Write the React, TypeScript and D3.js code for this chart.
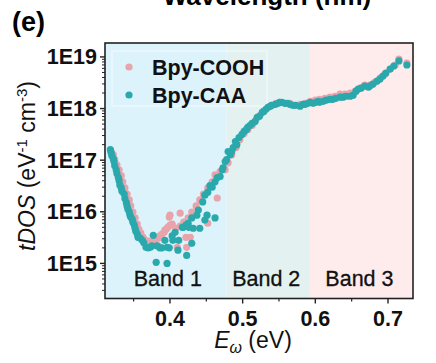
import * as d3 from "d3";
import React, { useEffect, useRef } from "react";

// Bpy-COOH  [E (eV), tDOS]
const cooh: [number, number][] = [
  [0.319, 1.47e17], [0.322, 1.28e17], [0.324, 1.02e17], [0.327, 8.1e16], [0.330, 6.5e16],
  [0.333, 5.0e16], [0.335, 3.8e16], [0.338, 2.9e16], [0.341, 2.2e16], [0.344, 1.7e16],
  [0.346, 1.3e16], [0.349, 9.9e15], [0.352, 7.6e15], [0.355, 5.8e15], [0.357, 4.6e15],
  [0.360, 3.85e15], [0.363, 3.2e15], [0.366, 2.8e15], [0.370, 2.7e15], [0.373, 2.57e15],
  [0.375, 2.45e15], [0.378, 2.8e15], [0.381, 2.9e15], [0.384, 3.1e15], [0.384, 2.2e15],
  [0.386, 3.4e15], [0.389, 3.7e15], [0.392, 4.0e15], [0.393, 4.4e15], [0.395, 4.6e15],
  [0.397, 5.0e15], [0.399, 7.9e15], [0.400, 5.5e15], [0.400, 8.6e15], [0.403, 5.8e15],
  [0.408, 4.8e15], [0.410, 2.05e15], [0.414, 9.4e15], [0.414, 5.3e15], [0.419, 6.3e15],
  [0.422, 3.2e15], [0.423, 2.05e15], [0.425, 7.6e15], [0.428, 3.2e15], [0.430, 9.9e15],
  [0.436, 1.3e16], [0.441, 1.7e16], [0.446, 2.2e16], [0.452, 6.0e15], [0.452, 2.9e16],
  [0.458, 3.8e16], [0.462, 5.2e16], [0.465, 1.85e16], [0.469, 6.0e16], [0.476, 6.5e16],
  [0.480, 8.9e16], [0.485, 1.28e17], [0.491, 1.75e17], [0.496, 2.5e17], [0.502, 3.3e17],
  [0.507, 3.9e17], [0.513, 4.7e17], [0.518, 5.9e17], [0.524, 7.4e17], [0.529, 8.8e17],
  [0.535, 1.06e18], [0.540, 1.16e18], [0.546, 1.26e18], [0.551, 1.32e18], [0.558, 1.26e18],
  [0.565, 1.26e18], [0.572, 1.16e18], [0.579, 1.21e18], [0.586, 1.26e18], [0.593, 1.38e18],
  [0.600, 1.45e18], [0.606, 1.51e18], [0.613, 1.58e18], [0.620, 1.66e18], [0.627, 1.73e18],
  [0.634, 1.9e18], [0.641, 1.9e18], [0.648, 2.0e18], [0.655, 2.17e18], [0.662, 2.48e18],
  [0.668, 2.85e18], [0.675, 2.85e18], [0.682, 3.25e18], [0.689, 3.9e18], [0.696, 4.66e18],
  [0.703, 5.83e18], [0.710, 6.98e18], [0.715, 9.1e18], [0.726, 7.6e18],
];

// Bpy-CAA  [E (eV), tDOS]
const caa: [number, number][] = [
  [0.318, 1.6e17], [0.319, 1.4e17], [0.320, 1.22e17], [0.322, 1.07e17], [0.323, 9.4e16],
  [0.324, 7.8e16], [0.326, 6.5e16], [0.327, 5.5e16], [0.329, 4.6e16], [0.330, 4.0e16],
  [0.331, 3.3e16], [0.333, 2.9e16], [0.334, 2.5e16], [0.337, 2.2e16], [0.338, 1.8e16],
  [0.340, 1.5e16], [0.341, 1.3e16], [0.342, 1.13e16], [0.344, 9.9e15], [0.345, 8.6e15],
  [0.346, 7.9e15], [0.348, 7.2e15], [0.349, 6.3e15], [0.351, 5.5e15], [0.352, 4.8e15],
  [0.353, 4.2e15], [0.355, 3.7e15], [0.356, 3.2e15], [0.359, 3.1e15], [0.362, 2.8e15],
  [0.364, 2.5e15], [0.367, 2.05e15], [0.370, 2.0e15], [0.373, 2.05e15], [0.375, 2.2e15],
  [0.377, 3.5e15], [0.381, 1.05e15], [0.382, 2.2e15], [0.386, 2.0e15], [0.389, 2.0e15],
  [0.393, 2.8e15], [0.396, 2.05e15], [0.396, 1.0e15], [0.399, 2.0e15], [0.403, 3.4e15],
  [0.404, 2.8e15], [0.407, 4.0e15], [0.411, 1.8e15], [0.412, 2.8e15], [0.417, 5.0e15],
  [0.418, 5.0e15], [0.422, 5.5e15], [0.423, 1.43e15], [0.425, 6.0e15], [0.426, 5.0e15],
  [0.430, 7.6e15], [0.430, 2.45e15], [0.432, 4.8e15], [0.437, 8.6e15], [0.439, 1.08e16],
  [0.441, 4.8e15], [0.445, 1.55e16], [0.448, 2.1e16], [0.448, 6.9e15], [0.451, 8.6e15],
  [0.452, 2.4e16], [0.455, 3.2e16], [0.458, 3.0e16], [0.462, 7.6e15], [0.462, 3.8e16],
  [0.465, 4.6e16], [0.469, 4.8e16], [0.472, 6.5e16], [0.473, 7.1e16], [0.476, 9.4e16],
  [0.478, 1.02e17], [0.480, 1.47e17], [0.483, 1.28e17], [0.485, 1.47e17], [0.487, 1.75e17],
  [0.490, 2.3e17], [0.492, 2.0e17], [0.495, 2.75e17], [0.499, 3.15e17], [0.502, 3.6e17],
  [0.505, 3.9e17], [0.507, 4.3e17], [0.510, 4.7e17], [0.513, 5.15e17], [0.517, 5.6e17],
  [0.520, 6.75e17], [0.523, 7.1e17], [0.527, 8.45e17], [0.529, 8.8e17], [0.532, 9.7e17],
  [0.535, 1.06e18], [0.538, 1.11e18], [0.540, 1.16e18], [0.545, 1.21e18], [0.549, 1.26e18],
  [0.551, 1.32e18], [0.554, 1.32e18], [0.558, 1.26e18], [0.562, 1.26e18], [0.565, 1.21e18],
  [0.569, 1.16e18], [0.573, 1.16e18], [0.579, 1.11e18], [0.583, 1.21e18], [0.586, 1.21e18],
  [0.590, 1.26e18], [0.593, 1.32e18], [0.597, 1.26e18], [0.601, 1.32e18], [0.604, 1.38e18],
  [0.606, 1.32e18], [0.611, 1.38e18], [0.615, 1.45e18], [0.620, 1.51e18], [0.624, 1.51e18],
  [0.628, 1.58e18], [0.634, 1.66e18], [0.638, 1.66e18], [0.642, 1.73e18], [0.648, 1.73e18],
  [0.652, 1.82e18], [0.656, 2.17e18], [0.659, 2.38e18], [0.663, 2.48e18], [0.668, 2.72e18],
  [0.673, 2.6e18], [0.675, 2.72e18], [0.679, 2.97e18], [0.685, 3.4e18], [0.689, 3.72e18],
  [0.693, 4.26e18], [0.697, 4.88e18], [0.703, 5.83e18], [0.708, 6.67e18], [0.715, 8.36e18],
  [0.726, 6.98e18],
];

const bands = [
  { name: "Band 1", from: 0.3106, to: 0.478, color: "#dcf3fc" },
  { name: "Band 2", from: 0.478, to: 0.5925, color: "#e3f1f1" },
  { name: "Band 3", from: 0.5925, to: 0.7344, color: "#fdeceb" },
];
const xTicks = [0.4, 0.5, 0.6, 0.7];
const xMinor = [0.35, 0.45, 0.55, 0.65];
const yTicks = [1e15, 1e16, 1e17, 1e18, 1e19];
const yTickLabels = ["1E15", "1E16", "1E17", "1E18", "1E19"];

const PINK = "#e9a3ab";
const TEAL = "#2aa9ad";
const FONT = "'Liberation Sans', Arial, sans-serif";

export default function App() {
  const ref = useRef<SVGSVGElement>(null);

  useEffect(() => {
    const W = 436, H = 363;
    const margin = { top: 43, right: 23, bottom: 64.5, left: 105 };
    const width = W - margin.left - margin.right;
    const height = H - margin.top - margin.bottom;

    const root = d3.select(ref.current);
    root.selectAll("*").remove();
    root.attr("width", W).attr("height", H);

    // title of the panel above, cut off at the top like in the figure
    root.append("text").attr("x", 267).attr("y", 5).attr("text-anchor", "middle")
      .attr("font-family", FONT).attr("font-weight", "bold").attr("font-size", 26)
      .text("Wavelength (nm)");
    root.append("text").attr("x", 12).attr("y", 31)
      .attr("font-family", FONT).attr("font-weight", "bold").attr("font-size", 27)
      .text("(e)");

    const svg = root.append("g").attr("transform", `translate(${margin.left},${margin.top})`);

    const x = d3.scaleLinear().domain([0.3106, 0.7344]).range([0, width]);
    const y = d3.scaleLog().domain([10 ** 14.32, 10 ** 19.27]).range([height, 0]);

    // band backgrounds
    svg.selectAll("rect.band").data(bands).enter().append("rect")
      .attr("x", d => x(d.from)).attr("y", 0)
      .attr("width", d => x(d.to) - x(d.from)).attr("height", height)
      .attr("fill", d => d.color);

    // faint legend box
    svg.append("rect").attr("x", 7).attr("y", 8).attr("width", 155).attr("height", 55)
      .attr("fill", "none").attr("stroke", "#ffffff").attr("stroke-opacity", 0.7);

    // points
    svg.append("g").selectAll("circle").data(cooh).enter().append("circle")
      .attr("cx", d => x(d[0])).attr("cy", d => y(d[1])).attr("r", 3.6)
      .attr("fill", PINK);
    svg.append("g").selectAll("circle").data(caa).enter().append("circle")
      .attr("cx", d => x(d[0])).attr("cy", d => y(d[1])).attr("r", 3.6)
      .attr("fill", TEAL);

    // band labels
    svg.selectAll("text.band").data(bands).enter().append("text")
      .attr("x", d => (x(d.from) + x(d.to)) / 2 + (d.name === "Band 1" ? 2 : -2))
      .attr("y", 243).attr("text-anchor", "middle")
      .attr("font-family", FONT).attr("font-size", 21.5).attr("fill", "#111")
      .attr("stroke", "#111").attr("stroke-width", 0.3)
      .text(d => d.name);

    // legend
    const legend = [{ name: "Bpy-COOH", color: PINK }, { name: "Bpy-CAA", color: TEAL }];
    legend.forEach((l, i) => {
      svg.append("circle").attr("cx", 24).attr("cy", 24 + i * 28).attr("r", 3.6).attr("fill", l.color);
      svg.append("text").attr("x", 47).attr("y", 31.5 + i * 28)
        .attr("font-family", FONT).attr("font-weight", "bold").attr("font-size", 21.5).attr("fill", "#111")
        .text(l.name);
    });

    // frame
    svg.append("rect").attr("width", width).attr("height", height)
      .attr("fill", "none").attr("stroke", "#222").attr("stroke-width", 1.6);

    // x axis
    const xa = svg.append("g").attr("transform", `translate(0,${height})`);
    xTicks.forEach(t => {
      xa.append("line").attr("x1", x(t)).attr("x2", x(t)).attr("y1", 0).attr("y2", 5)
        .attr("stroke", "#222").attr("stroke-width", 1.4);
      xa.append("text").attr("x", x(t)).attr("y", 27).attr("text-anchor", "middle")
        .attr("font-family", FONT).attr("font-weight", "bold").attr("font-size", 21.5).attr("fill", "#111")
        .text(d3.format(".1f")(t));
    });
    xMinor.forEach(t => {
      xa.append("line").attr("x1", x(t)).attr("x2", x(t)).attr("y1", 0).attr("y2", 3)
        .attr("stroke", "#222").attr("stroke-width", 1.2);
    });

    // y axis
    const ya = svg.append("g");
    yTicks.forEach((t, i) => {
      ya.append("line").attr("x1", -5).attr("x2", 0).attr("y1", y(t)).attr("y2", y(t))
        .attr("stroke", "#222").attr("stroke-width", 1.4);
      ya.append("text").attr("x", -8).attr("y", y(t) + 7.5).attr("text-anchor", "end")
        .attr("font-family", FONT).attr("font-weight", "bold").attr("font-size", 21.5).attr("fill", "#111")
        .text(yTickLabels[i]);
    });
    const minor = y.ticks().filter(t => !yTicks.includes(t));
    minor.forEach(t => {
      ya.append("line").attr("x1", -3).attr("x2", 0).attr("y1", y(t)).attr("y2", y(t))
        .attr("stroke", "#222").attr("stroke-width", 1);
    });

    // axis titles
    const xl = root.append("text").attr("x", 253).attr("y", 348).attr("text-anchor", "middle")
      .attr("font-family", FONT).attr("font-size", 23).attr("fill", "#111");
    xl.append("tspan").attr("font-style", "italic").text("E");
    xl.append("tspan").attr("font-style", "italic").attr("font-size", 16).attr("dy", 5).text("ω");
    xl.append("tspan").attr("dy", -5).text(" (eV)");

    const yl = root.append("text").attr("transform", "translate(35,166) rotate(-90)")
      .attr("text-anchor", "middle").attr("font-family", FONT).attr("font-size", 23).attr("fill", "#111");
    yl.append("tspan").attr("font-style", "italic").text("tDOS");
    yl.append("tspan").text(" (eV");
    yl.append("tspan").attr("font-size", 15).attr("dy", -8).text("-1");
    yl.append("tspan").attr("dy", 8).text(" cm");
    yl.append("tspan").attr("font-size", 15).attr("dy", -8).text("-3");
    yl.append("tspan").attr("dy", 8).text(")");
  }, []);

  return (
    <div style={{ position: "absolute", left: 0, top: 0, background: "#fff" }}>
      <svg ref={ref} style={{ display: "block" }}></svg>
    </div>
  );
}
